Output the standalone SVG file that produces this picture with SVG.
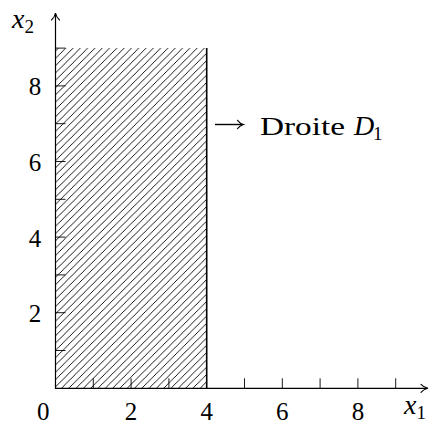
<svg xmlns="http://www.w3.org/2000/svg" width="430" height="424" viewBox="0 0 430 424">
<style>
.num{font-family:"Liberation Serif","Times New Roman",serif;font-size:25px;fill:#000}
.math{font-family:"Liberation Serif","Times New Roman",serif;font-style:italic;font-size:28px;fill:#000}
.sub{font-family:"Liberation Serif","Times New Roman",serif;font-size:19px;fill:#000}
.lbl{font-family:"Liberation Serif","Times New Roman",serif;font-size:26px;fill:#000}
.axis{stroke:#000;stroke-width:1.2;fill:none}
.tick{stroke:#000;stroke-width:0.9;fill:none}
.arrowhead{stroke:#000;stroke-width:1.1;fill:none;stroke-linecap:round}
</style>
<defs>
<pattern id="hatch" patternUnits="userSpaceOnUse" x="55.5" y="0" width="7.3" height="7.3">
<path d="M-1,1 L1,-1 M0,7.3 L7.3,0 M6.3,8.3 L8.3,6.3" stroke="#000" stroke-width="0.9"/>
</pattern>
</defs>
<g id="region">
<rect x="55.5" y="48" width="151.2" height="340.3" fill="url(#hatch)"/>
<line x1="206.7" y1="48" x2="206.7" y2="388.3" stroke="#000" stroke-width="1.6"/>
</g>
<g id="x-axis">
<line class="axis" x1="55" y1="388.3" x2="427" y2="388.3"/>
<path class="arrowhead" d="M421,384.3 Q424,387.5 428,388.3 Q424,389.1 421,392.3"/>
<g class="tick">
<line x1="93.3" y1="378.3" x2="93.3" y2="388.3"/>
<line x1="131.1" y1="378.3" x2="131.1" y2="388.3"/>
<line x1="168.9" y1="378.3" x2="168.9" y2="388.3"/>
<line x1="244.5" y1="378.3" x2="244.5" y2="388.3"/>
<line x1="282.3" y1="378.3" x2="282.3" y2="388.3"/>
<line x1="320.1" y1="378.3" x2="320.1" y2="388.3"/>
<line x1="357.9" y1="378.3" x2="357.9" y2="388.3"/>
<line x1="395.7" y1="378.3" x2="395.7" y2="388.3"/>
</g>
<text class="num" x="43.3" y="420" text-anchor="middle">0</text>
<text class="num" x="131.1" y="420" text-anchor="middle">2</text>
<text class="num" x="206.7" y="420" text-anchor="middle">4</text>
<text class="num" x="282.3" y="420" text-anchor="middle">6</text>
<text class="num" x="357.9" y="420" text-anchor="middle">8</text>
<text x="404" y="414"><tspan class="math">x</tspan><tspan class="sub" dy="5">1</tspan></text>
</g>
<g id="y-axis">
<line class="axis" x1="55.5" y1="388.8" x2="55.5" y2="14"/>
<path class="arrowhead" d="M51.5,20 Q54.7,17 55.5,13 Q56.3,17 59.5,20"/>
<g class="tick">
<line x1="55.5" y1="350.5" x2="65.5" y2="350.5"/>
<line x1="55.5" y1="312.7" x2="65.5" y2="312.7"/>
<line x1="55.5" y1="274.9" x2="65.5" y2="274.9"/>
<line x1="55.5" y1="237.1" x2="65.5" y2="237.1"/>
<line x1="55.5" y1="199.3" x2="65.5" y2="199.3"/>
<line x1="55.5" y1="161.5" x2="65.5" y2="161.5"/>
<line x1="55.5" y1="123.7" x2="65.5" y2="123.7"/>
<line x1="55.5" y1="85.9" x2="65.5" y2="85.9"/>
<line x1="55.5" y1="48.1" x2="65.5" y2="48.1"/>
</g>
<text class="num" x="35" y="95" text-anchor="middle">8</text>
<text class="num" x="35" y="171" text-anchor="middle">6</text>
<text class="num" x="35" y="246.5" text-anchor="middle">4</text>
<text class="num" x="35" y="321.5" text-anchor="middle">2</text>
<text x="12" y="28"><tspan class="math">x</tspan><tspan class="sub" dy="5">2</tspan></text>
</g>
<g id="label">
<line x1="215" y1="124.5" x2="242" y2="124.5" stroke="#000" stroke-width="1.4"/>
<path class="arrowhead" d="M237.5,120.3 Q240,123.5 243.5,124.5 Q240,125.5 237.5,128.7"/>
<text class="lbl" x="260" y="135" textLength="85" lengthAdjust="spacingAndGlyphs">Droite</text>
<text class="math" x="354" y="135">D</text>
<text class="sub" x="373" y="140">1</text>
</g>
</svg>
